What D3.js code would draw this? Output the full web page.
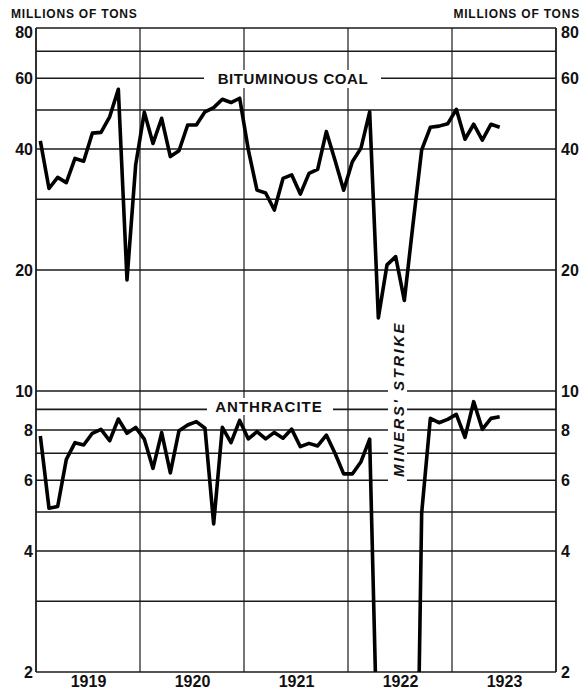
<!DOCTYPE html>
<html>
<head>
<meta charset="utf-8">
<script src="https://cdn.jsdelivr.net/npm/d3@7/dist/d3.min.js"></script>
<style>
  html, body { margin: 0; padding: 0; background: #fff; }
  svg { display: block; }
  text { font-family: "Liberation Sans", Arial, sans-serif; fill: #111; }
</style>
</head>
<body>
<svg id="chart" width="581" height="692"></svg>
<script>
// ---- data (monthly, Jan 1919 – Jun 1923, millions of tons) ----
const years = ["1919", "1920", "1921", "1922", "1923"];
const yTickValues = [2, 4, 6, 8, 10, 20, 40, 60, 80];
const gridValues = [2, 3, 4, 5, 6, 7, 8, 9, 10, 20, 30, 40, 50, 60, 70, 80];
const bituminous = [
  41.9, 31.9, 34.0, 33.0, 37.9, 37.3, 43.8, 44.0, 48.1, 56.3, 18.9, 36.5,
  49.4, 41.3, 47.7, 38.3, 39.6, 45.9, 45.9, 49.5, 50.7, 53.2, 52.2, 53.5,
  39.8, 31.6, 31.1, 28.2, 33.8, 34.5, 30.9, 34.8, 35.6, 44.2, 37.5, 31.6,
  37.2, 40.2, 49.5, 15.2, 20.6, 21.6, 16.8, 26.0, 39.8, 45.3, 45.6, 46.2,
  50.2, 42.3, 46.1, 42.1, 46.1, 45.3
];
const anthracite = [
  7.73, 5.11, 5.16, 6.76, 7.44, 7.34, 7.85, 8.03, 7.52, 8.52, 7.85, 8.12,
  7.59, 6.42, 7.88, 6.26, 7.97, 8.23, 8.39, 8.08, 4.67, 8.12, 7.44, 8.45,
  7.60, 7.92, 7.60, 7.89, 7.63, 8.04, 7.27, 7.41, 7.30, 7.77, 7.00, 6.22,
  6.22, 6.67, 7.59, 1.0, 0.5, 0.5, 0.5, 0.2, 4.97, 8.55, 8.34, 8.50,
  8.75, 7.67, 9.41, 8.03, 8.55, 8.63
];

// ---- layout ----
const svg = d3.select("#chart");
const L = 36, R = 556, T = 28, B = 672;

const x = d3.scaleLinear().domain([0, years.length * 12]).range([L, R]);
const y = d3.scaleLog().domain([2, 80]).range([B, T]);

svg.append("defs").append("clipPath").attr("id", "plotclip")
  .append("rect").attr("x", L).attr("y", T).attr("width", R - L).attr("height", B - T);

// horizontal grid
svg.append("g").selectAll("line").data(gridValues).join("line")
  .attr("x1", L).attr("x2", R)
  .attr("y1", d => y(d)).attr("y2", d => y(d))
  .attr("stroke", "#1a1a1a").attr("stroke-width", 1.6);

// vertical year dividers + borders
const vlines = d3.range(0, years.length + 1).map(i => i * 12);
svg.append("g").selectAll("line").data(vlines).join("line")
  .attr("x1", d => x(d)).attr("x2", d => x(d))
  .attr("y1", T).attr("y2", B)
  .attr("stroke", "#1a1a1a")
  .attr("stroke-width", (d, i) => (i === 0 || i === vlines.length - 1) ? 1.8 : 1.2);

// label backgrounds (white knock-outs over grid)
svg.append("rect").attr("x", 204).attr("y", 70).attr("width", 177).attr("height", 18).attr("fill", "#fff");
svg.append("rect").attr("x", 207).attr("y", 398).attr("width", 126).attr("height", 17).attr("fill", "#fff");
svg.append("rect").attr("x", 388).attr("y", 314).attr("width", 19).attr("height", 170).attr("fill", "#fff");

// series lines
const line = d3.line()
  .x((d, i) => x(i + 0.5))
  .y(d => y(d));

const plot = svg.append("g").attr("clip-path", "url(#plotclip)");
[bituminous, anthracite].forEach(series => {
  plot.append("path").datum(series)
    .attr("d", line)
    .attr("fill", "none")
    .attr("stroke", "#000")
    .attr("stroke-width", 3.6)
    .attr("stroke-linejoin", "round");
});

// axes
const fmt = d => String(d);
const yLeft = svg.append("g").attr("transform", `translate(${L - 3},0)`)
  .call(d3.axisLeft(y).tickValues(yTickValues).tickFormat(fmt).tickSize(0).tickPadding(0));
const yRight = svg.append("g").attr("transform", `translate(${R + 5},0)`)
  .call(d3.axisRight(y).tickValues(yTickValues).tickFormat(fmt).tickSize(0).tickPadding(0));
const xAxis = svg.append("g").attr("transform", `translate(0,${B + 1})`)
  .call(d3.axisBottom(x).tickValues(years.map((_, i) => i * 12 + 6))
    .tickFormat((d, i) => years[i]).tickSize(0).tickPadding(3));

[yLeft, yRight, xAxis].forEach(g => {
  g.select(".domain").remove();
  g.selectAll("text")
    .style("font-family", "'Liberation Sans', Arial, sans-serif")
    .style("font-size", "16px")
    .style("font-weight", "bold")
    .attr("fill", "#111");
});
[yLeft, yRight].forEach(g => {
  g.selectAll("text").attr("dy", d => d === 80 ? "0.62em" : "0.36em");
});

// titles
svg.append("text").attr("x", 11).attr("y", 18)
  .style("font-size", "12px").style("font-weight", "bold").style("letter-spacing", "0.8px")
  .text("MILLIONS OF TONS");
svg.append("text").attr("x", 580).attr("y", 18).attr("text-anchor", "end")
  .style("font-size", "12px").style("font-weight", "bold").style("letter-spacing", "0.8px")
  .text("MILLIONS OF TONS");

svg.append("text").attr("x", 293).attr("y", 84).attr("text-anchor", "middle")
  .style("font-size", "15px").style("font-weight", "bold").style("letter-spacing", "0.6px")
  .text("BITUMINOUS COAL");
svg.append("text").attr("x", 269).attr("y", 412).attr("text-anchor", "middle")
  .style("font-size", "15px").style("font-weight", "bold").style("letter-spacing", "1px")
  .text("ANTHRACITE");

svg.append("text")
  .attr("transform", "translate(404,399) rotate(-90)")
  .attr("text-anchor", "middle")
  .style("font-size", "15px").style("font-weight", "bold").style("font-style", "italic")
  .style("letter-spacing", "2.5px")
  .text("MINERS' STRIKE");
</script>
</body>
</html>
